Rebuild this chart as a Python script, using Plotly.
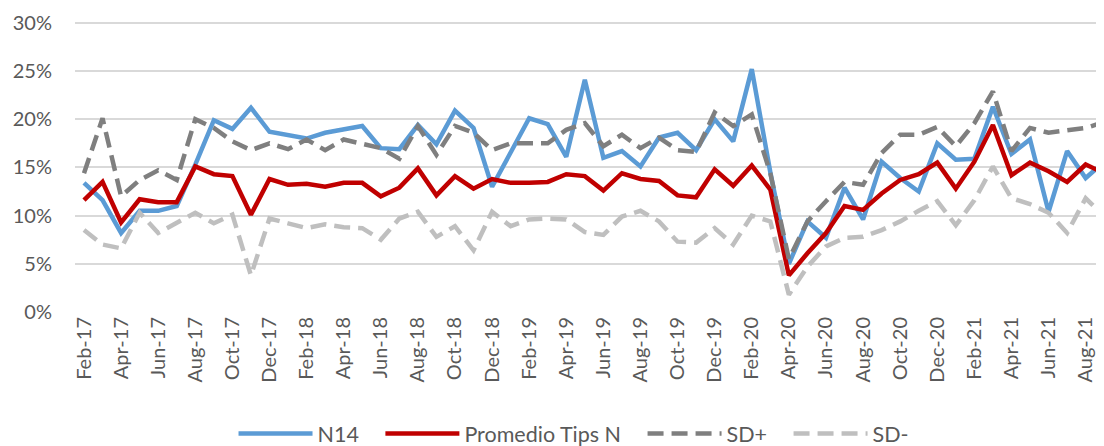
import plotly.graph_objects as go

months = ["Feb-17","Mar-17","Apr-17","May-17","Jun-17","Jul-17","Aug-17","Sep-17","Oct-17","Nov-17","Dec-17",
          "Jan-18","Feb-18","Mar-18","Apr-18","May-18","Jun-18","Jul-18","Aug-18","Sep-18","Oct-18","Nov-18","Dec-18",
          "Jan-19","Feb-19","Mar-19","Apr-19","May-19","Jun-19","Jul-19","Aug-19","Sep-19","Oct-19","Nov-19","Dec-19",
          "Jan-20","Feb-20","Mar-20","Apr-20","May-20","Jun-20","Jul-20","Aug-20","Sep-20","Oct-20","Nov-20","Dec-20",
          "Jan-21","Feb-21","Mar-21","Apr-21","May-21","Jun-21","Jul-21","Aug-21","Sep-21"]

n14 = [13.4, 11.6, 8.2, 10.5, 10.5, 11.0, 15.3, 19.9, 19.0, 21.2, 18.7,
       18.3, 18.0, 18.6, 18.9, 19.3, 17.0, 16.9, 19.4, 17.4, 20.9, 19.1, 13.0,
       16.5, 20.1, 19.5, 16.1, 24.1, 16.0, 16.7, 15.1, 18.1, 18.6, 16.8, 20.0,
       17.7, 25.2, 14.5, 5.0, 9.4, 7.7, 12.9, 9.6, 15.6, 13.9, 12.5, 17.5,
       15.8, 15.9, 21.3, 16.4, 17.9, 10.4, 16.7, 13.9, 15.6]

promedio = [11.6, 13.5, 9.3, 11.7, 11.4, 11.4, 15.1, 14.3, 14.1, 10.1, 13.8,
            13.2, 13.3, 13.0, 13.4, 13.4, 12.0, 12.9, 14.9, 12.1, 14.1, 12.8, 13.8,
            13.4, 13.4, 13.5, 14.3, 14.1, 12.6, 14.4, 13.8, 13.6, 12.1, 11.9, 14.8,
            13.1, 15.2, 12.7, 3.8, 6.1, 8.2, 11.0, 10.6, 12.3, 13.7, 14.3, 15.5,
            12.8, 15.6, 19.4, 14.2, 15.5, 14.6, 13.5, 15.3, 14.4]

sd_plus = [14.4, 20.1, 12.0, 13.7, 14.7, 13.7, 20.0, 19.1, 17.7, 16.8, 17.5,
           16.9, 17.9, 16.8, 17.9, 17.5, 17.0, 15.9, 19.3, 16.3, 19.3, 18.6, 16.8,
           17.5, 17.5, 17.5, 18.9, 19.6, 17.2, 18.4, 17.0, 18.1, 16.8, 16.6, 20.7,
           19.3, 20.5, 14.4, 5.5, 9.4, 11.5, 13.5, 13.2, 16.5, 18.4, 18.4, 19.2,
           17.2, 19.6, 22.9, 16.7, 19.1, 18.6, 18.9, 19.1, 19.7]

sd_minus = [8.5, 7.0, 6.6, 10.3, 8.2, 9.2, 10.3, 9.2, 10.1, 3.8, 9.7,
            9.2, 8.7, 9.1, 8.8, 8.7, 7.5, 9.7, 10.4, 7.8, 8.9, 6.4, 10.4,
            8.9, 9.6, 9.7, 9.6, 8.3, 8.0, 9.9, 10.5, 9.4, 7.3, 7.2, 8.7,
            7.0, 10.0, 9.4, 1.8, 4.7, 6.8, 7.7, 7.8, 8.5, 9.4, 10.5, 11.5,
            9.0, 11.6, 15.1, 11.8, 11.2, 10.3, 8.2, 11.8, 9.9]

series_names = ["N14", "Promedio Tips N", "SD+", "SD-"]

y_ticks = [0, 5, 10, 15, 20, 25, 30]
y_ticklabels = ["0%", "5%", "10%", "15%", "20%", "25%", "30%"]

FONT = "Lato"
TXT = "#595959"
PAD = "\u00a0\u00a0\u00a0"  # extra spacing between legend entries

fig = go.Figure()
fig.add_trace(go.Scatter(x=months, y=n14, name=series_names[0] + PAD, mode="lines",
                         line=dict(color="#5B9BD5", width=4.5)))
fig.add_trace(go.Scatter(x=months, y=promedio, name=series_names[1] + PAD, mode="lines",
                         line=dict(color="#C00000", width=4.5)))
fig.add_trace(go.Scatter(x=months, y=sd_plus, name=series_names[2] + PAD, mode="lines",
                         line=dict(color="#7F7F7F", width=4.5, dash="16px,8px")))
fig.add_trace(go.Scatter(x=months, y=sd_minus, name=series_names[3], mode="lines",
                         line=dict(color="#BFBFBF", width=4.5, dash="16px,8px")))

fig.update_layout(
    width=1104, height=446,
    margin=dict(l=67, r=0, t=12, b=142, autoexpand=False),
    paper_bgcolor="white", plot_bgcolor="white",
    font=dict(family=FONT, size=20, color=TXT),
    showlegend=True,
    legend=dict(orientation="h", x=0.5127, xanchor="center", xref="container",
                y=0.046, yanchor="middle", yref="container",
                font=dict(family=FONT, size=21.5, color=TXT),
                itemwidth=74, tracegroupgap=0, bgcolor="rgba(0,0,0,0)"),
    xaxis=dict(type="category", range=[-0.485, 55.42], automargin=False,
               tickmode="array", tickvals=months[::2], ticktext=months[::2],
               tickangle=-90, showgrid=False, showline=False, ticks="",
               tickfont=dict(family=FONT, size=20, color=TXT), zeroline=False),
    yaxis=dict(range=[0, 30.3], automargin=False, tickmode="array", tickvals=y_ticks,
               ticktext=y_ticklabels,
               showgrid=True, gridcolor="#D9D9D9", gridwidth=1.5, zeroline=False,
               showline=False, ticks="", ticklabelstandoff=22,
               tickfont=dict(family=FONT, size=20, color=TXT)),
)

fig.write_html("out.html")
